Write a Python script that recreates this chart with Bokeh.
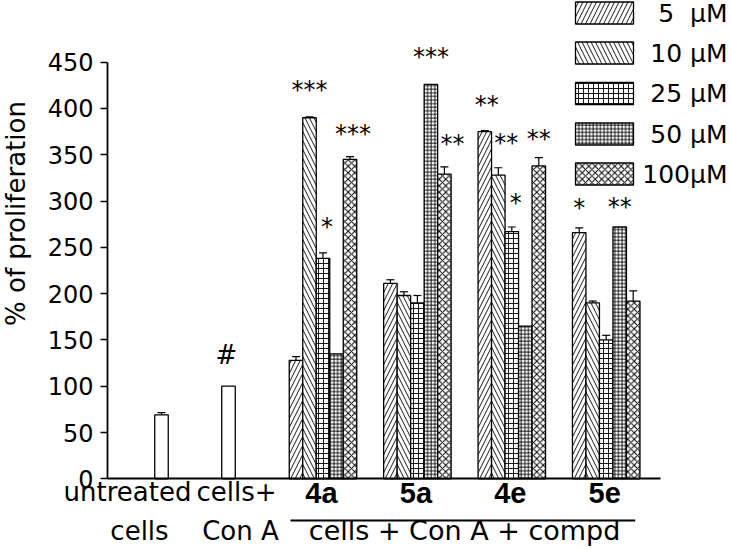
import numpy as np
from bokeh.plotting import figure
from bokeh.models import Range1d, FixedTicker, Whisker, TeeHead, ColumnDataSource
from bokeh.core.properties import value
from bokeh.embed import file_html
from bokeh.resources import INLINE

# ---------------- data ----------------
compounds = ["4a", "5a", "4e", "5e"]
series = ["5\u00a0\u00a0µM", "10 µM", "25 µM", "50 µM", "100µM"]
v5 = [128, 211, 375, 266]
v10 = [390, 198, 328, 190]
v25 = [238, 190, 267, 150]
v50 = [135, 426, 165, 272]
v100 = [345, 329, 338, 192]
e5 = [4, 4, 1, 5]
e10 = [1, 4, 8, 2]
e25 = [6, 8, 5, 5]
e50 = [0, 0, 0, 0]
e100 = [3, 8, 9, 11]
values = [v5, v10, v25, v50, v100]
errors = [e5, e10, e25, e50, e100]

control_line1 = ["untreated", "cells+"]
control_line2 = ["cells", "Con A"]
control_values = [69, 100]
control_errors = [2.5, 0]
control_marks = ["", "#"]
group_caption = "cells + Con A + compd"
y_ticks = [0, 50, 100, 150, 200, 250, 300, 350, 400, 450]
y_title = "% of proliferation"

# significance marks: (compound index, series index, label)
stars = [(0, 1, "***"), (0, 2, "*"), (0, 4, "***"),
         (1, 3, "***"), (1, 4, "**"),
         (2, 0, "**"), (2, 1, "**"), (2, 2, "*"), (2, 4, "**"),
         (3, 0, "*"), (3, 3, "**")]

# ---------------- layout / style ----------------
W, H = 730, 549
AXIS_X_PAGE = 107.0
ZERO_PAGE = 478.3
TOP450_PAGE = 61.7
SCALE = (ZERO_PAGE - TOP450_PAGE) / 450.0   # px per unit


def py(page_y):
    return (ZERO_PAGE - page_y) / SCALE


def px(page_x):
    return page_x - AXIS_X_PAGE


patterns = ["right_diagonal_line", "left_diagonal_line", "cross", "cross", "diagonal_cross"]
hscales = [9.0, 9.0, 5.0, 3.6, 6.5]
hweights = [0.9, 0.9, 0.9, 0.9, 1.0]

BW = 13.5
ctrl_x = [px(161), px(228)]
comp_x0 = px(322.5)
comp_dx = 94.4
comp_x = [comp_x0 + g * comp_dx for g in range(len(compounds))]

FONT = "DejaVu Sans"

p = figure(width=W, height=H, output_backend="svg", toolbar_location=None,
           x_range=Range1d(px(0), px(W)), y_range=Range1d(py(H), py(0)),
           min_border_left=0, min_border_right=0, min_border_top=0, min_border_bottom=0)
p.outline_line_color = None
p.xgrid.visible = False
p.ygrid.visible = False
p.background_fill_color = "white"
p.border_fill_color = "white"

# y axis at x=0
ya = p.yaxis[0]
ya.fixed_location = 0
ya.ticker = FixedTicker(ticks=y_ticks)
ya.bounds = (0, 450)
ya.major_label_text_font = FONT
ya.major_label_text_font_size = "24px"
ya.major_label_text_color = "black"
ya.major_tick_out = 7
ya.major_tick_in = 0
ya.minor_tick_out = 0
ya.minor_tick_in = 0
ya.axis_line_width = 1.8
ya.major_tick_line_width = 1.5
ya.major_label_standoff = 7

# x axis (line only) at y=0
xa = p.xaxis[0]
xa.fixed_location = 0
xa.bounds = (0, px(660))
xa.ticker = FixedTicker(ticks=[])
xa.major_label_text_font_size = "0px"
xa.major_tick_out = 0
xa.major_tick_in = 0
xa.minor_tick_out = 0
xa.minor_tick_in = 0
xa.major_label_standoff = 0
xa.axis_line_width = 2

# control bars
csrc = ColumnDataSource(dict(x=ctrl_x, top=control_values))
p.vbar(x="x", top="top", width=BW, source=csrc, fill_color="white",
       line_color="black", line_width=1.3)
wsrc = ColumnDataSource(dict(x=[x for x, e in zip(ctrl_x, control_errors) if e > 0],
                             lo=[v for v, e in zip(control_values, control_errors) if e > 0],
                             hi=[v + e for v, e in zip(control_values, control_errors) if e > 0]))
p.add_layout(Whisker(base="x", lower="lo", upper="hi", source=wsrc, lower_head=None,
                     upper_head=TeeHead(size=8, line_width=1.2), line_width=1.2))

# compound bars
for i, s in enumerate(series):
    xs = [c + (i - 2) * BW for c in comp_x]
    src = ColumnDataSource(dict(x=xs, top=values[i]))
    p.vbar(x="x", top="top", width=BW, source=src, fill_color="white",
           line_color="black", line_width=1.3, hatch_pattern=patterns[i],
           hatch_scale=hscales[i], hatch_weight=hweights[i], hatch_color="black")
    ex = [x for x, e in zip(xs, errors[i]) if e > 0]
    if ex:
        es = ColumnDataSource(dict(
            x=ex,
            lo=[v for v, e in zip(values[i], errors[i]) if e > 0],
            hi=[v + e for v, e in zip(values[i], errors[i]) if e > 0]))
        p.add_layout(Whisker(base="x", lower="lo", upper="hi", source=es, lower_head=None,
                             upper_head=TeeHead(size=8, line_width=1.2), line_width=1.2))

# significance marks (glyph centre about 27 px above the bar / error top)
star_nudge = {(0, 1): (0, -3), (0, 2): (4, -2), (0, 4): (3, 1),
              (1, 3): (0, -3), (1, 4): (8, 1), (2, 0): (2, -2), (2, 1): (8, -1),
              (2, 2): (4, 0), (2, 4): (0, 5), (3, 0): (0, 4), (3, 3): (0, 4)}
sx, sy, st, sdx, sdy = [], [], [], [], []
for g, i, lab in stars:
    sx.append(comp_x[g] + (i - 2) * BW)
    sy.append(values[i][g] + errors[i][g])
    st.append(lab)
    dx, dy = star_nudge.get((g, i), (0, 0))
    sdx.append(dx)
    sdy.append(-24 + dy)
p.text(x=sx, y=sy, text=st, x_offset=sdx, y_offset=sdy, text_font=value(FONT),
       text_font_size="24px", text_align="center", text_baseline="middle",
       text_color="black")

mk = [(x, v + e, m) for x, v, e, m in zip(ctrl_x, control_values, control_errors, control_marks) if m]
p.text(x=[m[0] for m in mk], y=[m[1] for m in mk], text=[m[2] for m in mk],
       x_offset=-2, y_offset=-31, text_font=value(FONT), text_font_size="26px",
       text_align="center", text_baseline="middle", text_color="black")

# category labels
l1_dx = [-34, 8]
l2_dx = [-22, 12]
p.text(x=[x + d for x, d in zip(ctrl_x, l1_dx)], y=[py(491)] * 2, text=control_line1,
       text_font=value(FONT), text_font_size="26px", text_align="center",
       text_baseline="middle", text_color="black")
p.text(x=[x + d for x, d in zip(ctrl_x, l2_dx)], y=[py(530)] * 2, text=control_line2,
       text_font=value(FONT), text_font_size="26px", text_align="center",
       text_baseline="middle", text_color="black")
p.text(x=[c - 1.5 for c in comp_x], y=[py(492)] * 4, text=compounds,
       text_font=value("Liberation Sans"), text_font_style="bold", text_font_size="29px",
       text_align="center", text_baseline="middle", text_color="black")
mid = (comp_x[0] + comp_x[-1]) / 2
p.text(x=[mid], y=[py(530)], text=[group_caption], text_font=value(FONT),
       text_font_size="27px", text_align="center", text_baseline="middle",
       text_color="black")
p.line(x=[comp_x[0] - 32.5, comp_x[-1] + 29], y=[py(520)] * 2, line_color="black", line_width=2)

# y title
p.text(x=[px(15)], y=[py(213)], text=[y_title], angle=np.pi / 2,
       text_align="center", text_baseline="middle", text_font=value(FONT),
       text_font_size="26px", text_color="black")

# legend
leg_page_y = [12.5, 52.5, 93, 133.5, 173.5]
lsrc = ColumnDataSource(dict(x=[px(604)] * 5, y=[py(v) for v in leg_page_y],
                             pat=patterns, sc=hscales, hw=hweights))
p.rect(x="x", y="y", width=58, height=22, width_units="screen", height_units="screen",
       source=lsrc, fill_color="white", line_color="black", line_width=1.3,
       hatch_pattern="pat", hatch_scale="sc", hatch_weight="hw", hatch_color="black")
p.text(x=[px(727)] * 5, y=[py(v) for v in leg_page_y], text=series, text_font=value(FONT),
       text_font_size="25px", text_align="right", text_baseline="middle", text_color="black")

open("out.html", "w").write(file_html(p, INLINE))
